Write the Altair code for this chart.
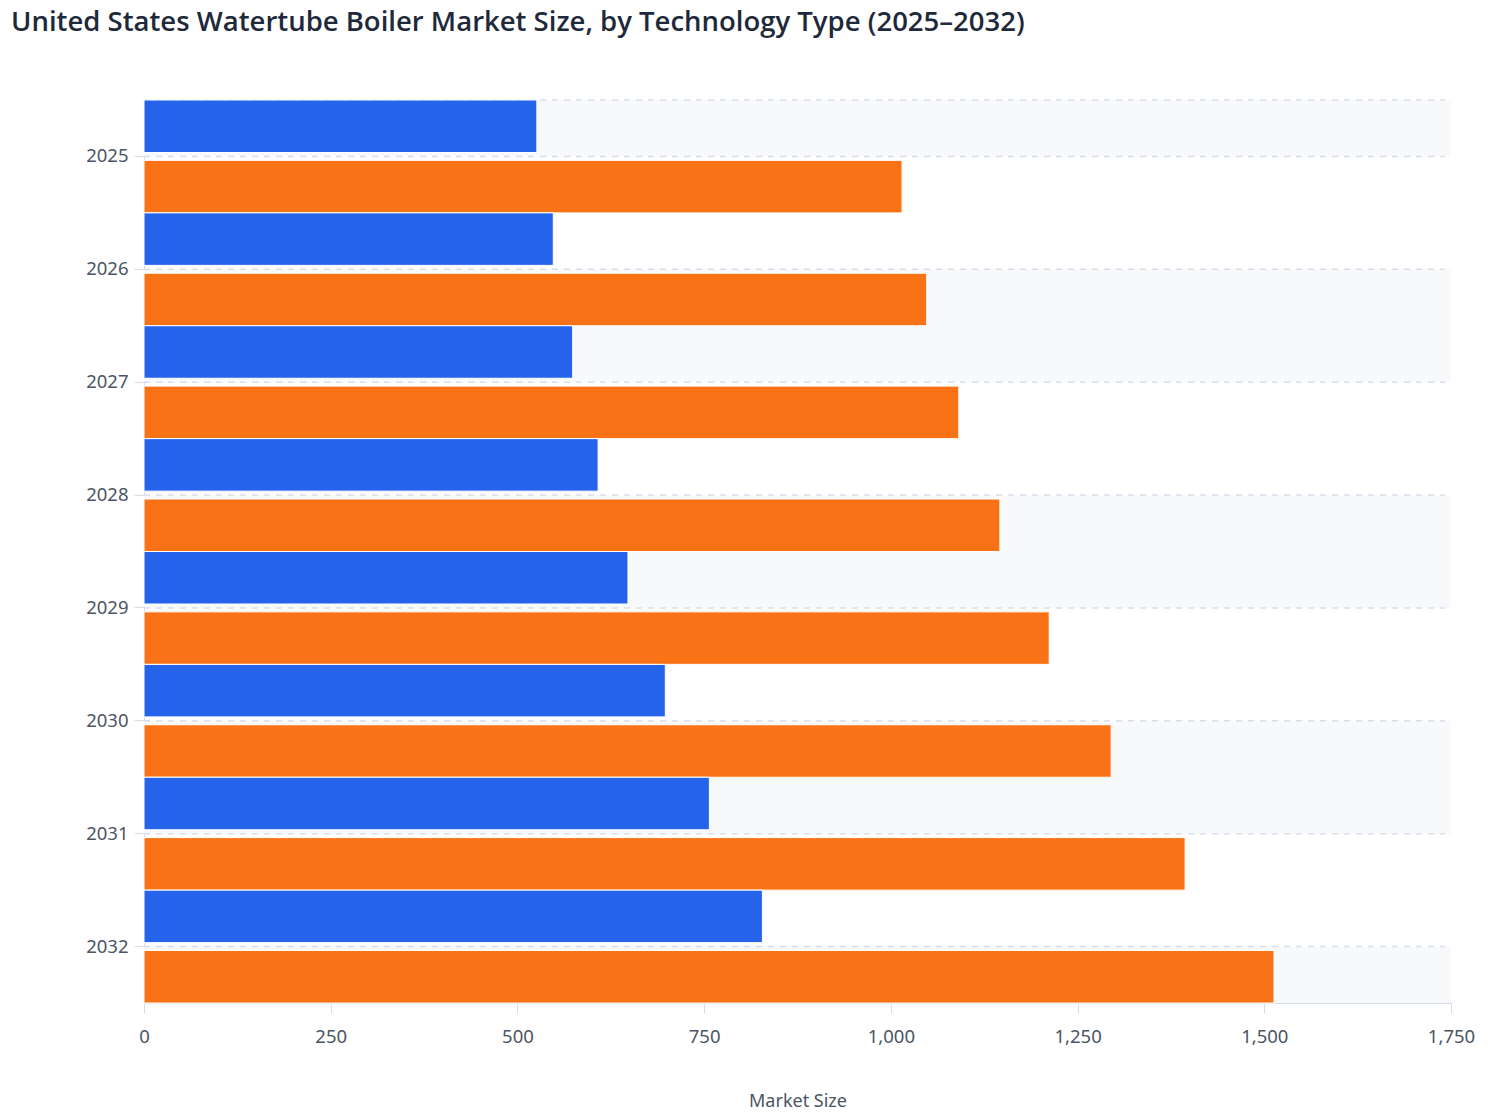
import altair as alt
import pandas as pd

# ---- data ----
years = ["2025", "2026", "2027", "2028", "2029", "2030", "2031", "2032"]
technologies = ["Conventional", "Advanced"]
conventional = [526, 548, 574, 608, 648, 698, 757, 828]
advanced = [1015, 1048, 1091, 1146, 1212, 1295, 1394, 1513]
x_ticks = [0, 250, 500, 750, 1000, 1250, 1500, 1750]

BLUE = "#2563eb"
ORANGE = "#f97316"
TEXT = "#4b5563"
AXIS = "#d6dce8"
GRID = "#d9deeb"
BAND = "#f8f9fb"
FONT = "Noto Sans"

W, H = 1307, 903
PAD_L, PAD_T = 136, 92

rows = []
for i, y in enumerate(years):
    rows.append({"Year": y, "Technology": technologies[0], "Market Size": conventional[i]})
    rows.append({"Year": y, "Technology": technologies[1], "Market Size": advanced[i]})
df = pd.DataFrame(rows)

n = len(years)
# alternating background bands between tick positions (index units, 0 = top)
bands = []
for i in range(0, n + 1, 2):
    bands.append({"y0": max(i - 0.5, 0), "y1": min(i + 0.5, n)})
bands_df = pd.DataFrame(bands)
grid_df = pd.DataFrame({"pos": [0] + [i + 0.5 for i in range(n)]})

pos_scale = alt.Scale(domain=[0, n], reverse=True, nice=False, zero=False)

bg = alt.Chart(bands_df).mark_rect(color=BAND).encode(
    x=alt.value(0), x2=alt.value(W),
    y=alt.Y("y0:Q", scale=pos_scale, axis=None),
    y2="y1:Q",
)

grid = alt.Chart(grid_df).mark_rule(color=GRID, strokeWidth=1.5, strokeDash=[6, 6]).encode(
    x=alt.value(0), x2=alt.value(W - 6),
    y=alt.Y("pos:Q", scale=pos_scale, axis=None),
)

bars = alt.Chart(df).mark_bar(stroke="white", strokeWidth=1).encode(
    y=alt.Y(
        "Year:N", sort=years, title=None,
        scale=alt.Scale(paddingInner=0, paddingOuter=0),
        axis=alt.Axis(
            grid=False, domain=True, domainColor=AXIS, tickColor=AXIS, tickSize=10,
            labelPadding=6, labelFontSize=18.5, labelColor=TEXT, labelFont=FONT,
        ),
    ),
    yOffset=alt.YOffset("Technology:N", sort=technologies,
                        scale=alt.Scale(paddingInner=0.13, paddingOuter=0)),
    x=alt.X(
        "Market Size:Q", title="Market Size",
        scale=alt.Scale(domain=[0, 1750], nice=False),
        axis=alt.Axis(
            values=x_ticks, format=",.0f", grid=False, domainColor=AXIS, tickColor=AXIS,
            tickSize=10, labelPadding=14, labelFontSize=18.5, labelColor=TEXT, labelFont=FONT,
            labelFlush=False,
            titleFontSize=18, titleColor=TEXT, titleFont=FONT, titleFontWeight="normal",
            titlePadding=47,
        ),
    ),
    color=alt.Color("Technology:N", scale=alt.Scale(domain=technologies, range=[BLUE, ORANGE]),
                    legend=None),
)

chart = alt.layer(bg, grid, bars).resolve_scale(y="independent").properties(
    width=W, height=H,
    autosize=alt.AutoSizeParams(type="none"),
    padding={"left": PAD_L, "top": PAD_T, "right": 40, "bottom": 109},
    title=alt.TitleParams(
        "United States Watertube Boiler Market Size, by Technology Type (2025–2032)",
        anchor="start", frame="group", fontSize=27.5, fontWeight=600, color="#1e293b",
        font="Open Sans", offset=63, dx=-PAD_L + 3,
    ),
).configure_view(stroke=None)

chart.save("out.html", embed_options={"renderer": "svg", "actions": False})
